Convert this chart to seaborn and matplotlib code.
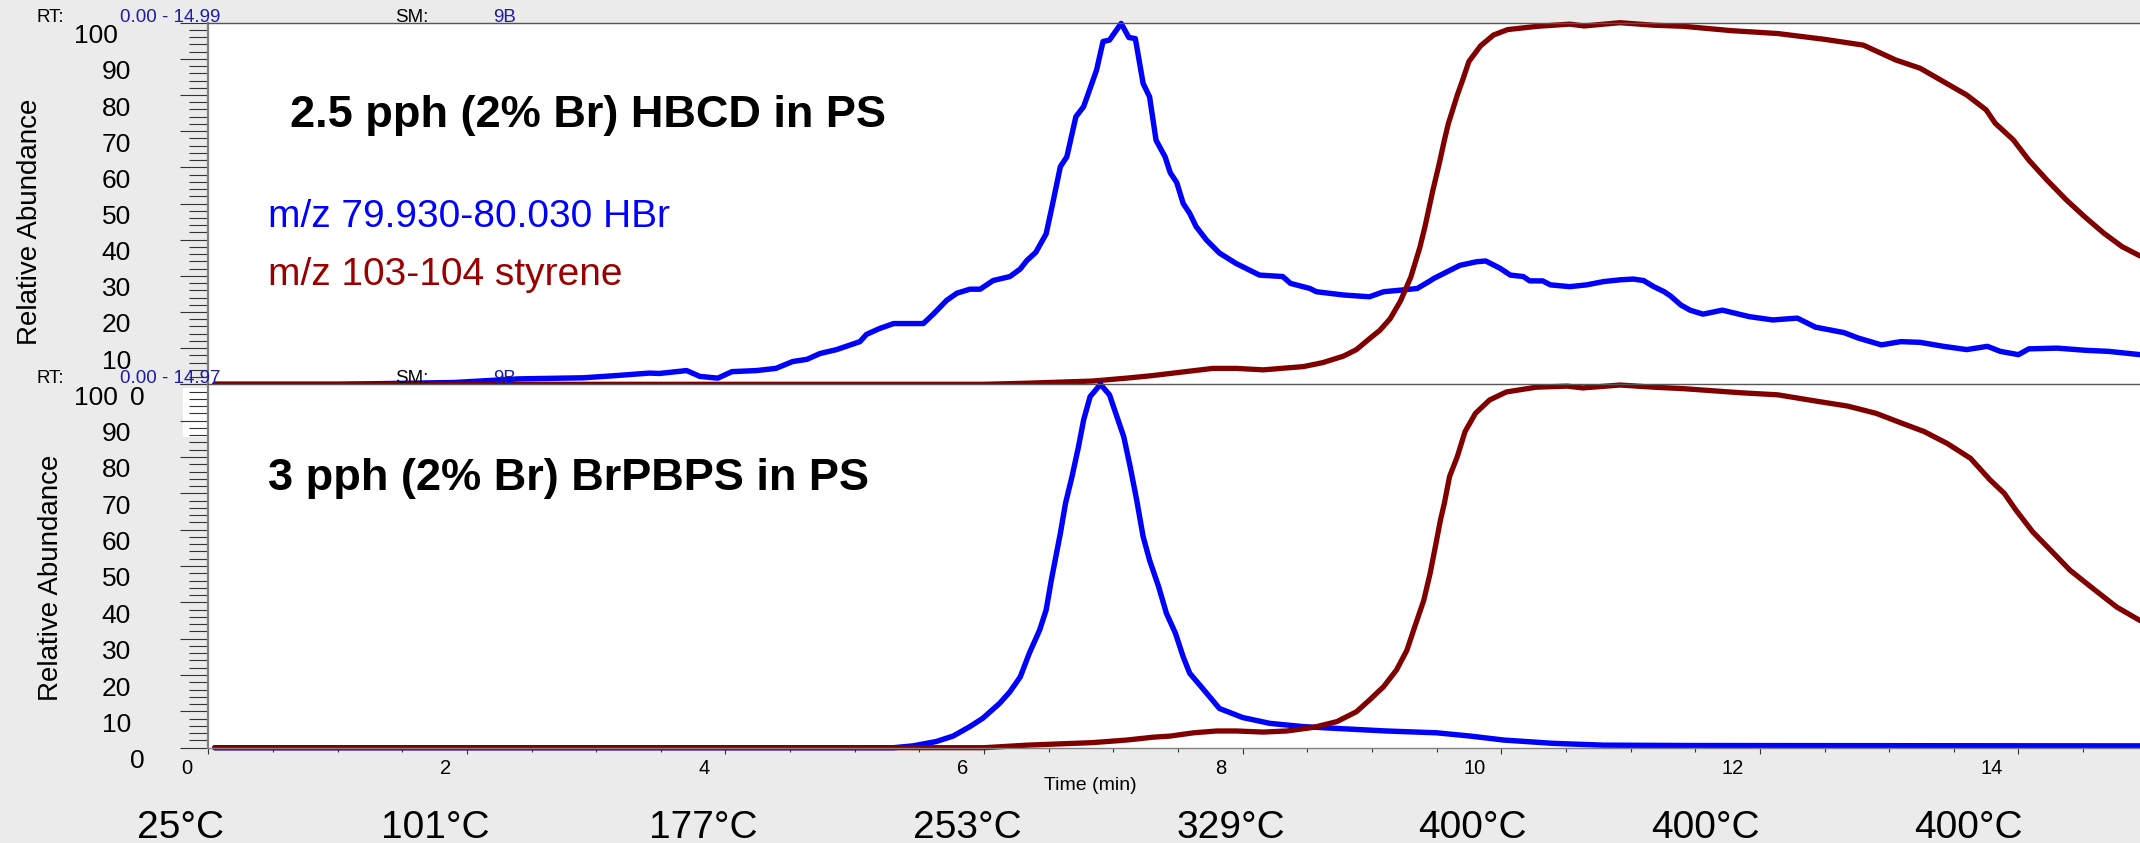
import matplotlib
matplotlib.use("Agg")
import matplotlib.pyplot as plt
import matplotlib.transforms as mtransforms
from matplotlib.patches import Rectangle
import numpy as np
import seaborn as sns

# ---- values (time in min, relative abundance in %) ----
# upper run: 2.5 pph HBCD in PS
top_hbr_t = [0.05, 1.0, 1.9, 2.4, 2.9, 3.15, 3.41, 3.49, 3.70, 3.80, 3.94, 4.05, 4.24, 4.39,
             4.52, 4.63, 4.73, 4.86, 5.04, 5.09, 5.19, 5.30, 5.53, 5.61, 5.71, 5.79, 5.89,
             5.97, 6.07, 6.20, 6.28, 6.33, 6.40, 6.48, 6.53, 6.59, 6.64, 6.71, 6.77, 6.87,
             6.92, 6.97, 7.06, 7.12, 7.17, 7.23, 7.28, 7.33, 7.40, 7.44, 7.49, 7.54, 7.59,
             7.64, 7.72, 7.82, 7.95, 8.13, 8.31, 8.37, 8.52, 8.57, 8.78, 8.98, 9.09, 9.24,
             9.35, 9.44, 9.48, 9.58, 9.68, 9.81, 9.88, 9.99, 10.07, 10.17, 10.22, 10.32,
             10.38, 10.53, 10.66, 10.79, 10.92, 11.02, 11.10, 11.18, 11.26, 11.31, 11.39,
             11.46, 11.56, 11.71, 11.92, 12.10, 12.29, 12.43, 12.65, 12.76, 12.94, 13.09,
             13.24, 13.42, 13.60, 13.76, 13.86, 14.00, 14.08, 14.30, 14.52, 14.70, 14.94]
top_hbr_v = [0, 0, 0.5, 1.5, 1.8, 2.4, 3.1, 3.0, 3.8, 2.2, 1.7, 3.5, 3.8, 4.4,
             6.3, 6.9, 8.5, 9.6, 11.8, 13.8, 15.4, 16.8, 16.8, 19.5, 23.2, 25.2, 26.3,
             26.3, 28.7, 29.8, 31.9, 34.2, 36.5, 41.6, 49.9, 60.2, 62.9, 74.0, 76.8, 86.9,
             94.8, 95.2, 99.8, 95.9, 95.6, 83.2, 79.5, 67.5, 62.9, 58.5, 55.8, 50.0, 47.3,
             43.6, 39.9, 36.3, 33.4, 30.2, 29.8, 27.9, 26.5, 25.6, 24.7, 24.2, 25.6, 26.1,
             26.5, 28.4, 29.3, 31.1, 32.9, 33.9, 34.1, 32.1, 30.2, 29.8, 28.6, 28.6,
             27.5, 27.0, 27.5, 28.4, 28.9, 29.1, 28.7, 27.0, 25.6, 24.4, 21.9,
             20.5, 19.4, 20.5, 18.7, 17.8, 18.3, 15.8, 14.3, 12.8, 10.9, 11.8,
             11.6, 10.5, 9.6, 10.5, 9.1, 8.2, 9.8, 10.0, 9.4, 9.1, 8.2]

top_sty_t = [0.05, 6.0, 6.33, 6.84, 7.10, 7.30, 7.44, 7.77, 7.95, 8.16, 8.47, 8.62, 8.78,
             8.88, 8.98, 9.06, 9.14, 9.22, 9.30, 9.37, 9.41, 9.47, 9.52, 9.56, 9.59, 9.66,
             9.70, 9.75, 9.84, 9.94, 10.05, 10.28, 10.53, 10.64, 10.92, 11.18, 11.41,
             11.78, 12.14, 12.50, 12.80, 13.05, 13.24, 13.42, 13.60, 13.75, 13.82, 13.96,
             14.08, 14.22, 14.37, 14.51, 14.66, 14.80, 14.94]
top_sty_v = [0, 0, 0.3, 0.9, 1.7, 2.4, 3.0, 4.4, 4.4, 4.0, 4.9, 6.0, 7.8,
             9.6, 12.6, 14.9, 18.1, 23.0, 29.6, 37.8, 43.6, 53.5, 61.0, 67.5, 72.0, 80.0,
             84.0, 89.3, 93.6, 96.6, 98.1, 99.0, 99.6, 99.1, 100.0, 99.3, 99.0,
             97.8, 97.0, 95.4, 93.8, 89.7, 87.4, 83.7, 80.0, 75.9, 72.2, 67.6,
             62.0, 56.5, 51.0, 46.4, 41.8, 38.1, 35.5]

# lower run: 3 pph BrPBPS in PS
bot_hbr_t = [0.05, 5.3, 5.45, 5.63, 5.76, 5.89, 5.99, 6.12, 6.20, 6.28, 6.35, 6.43, 6.48,
             6.52, 6.56, 6.59, 6.63, 6.68, 6.73, 6.77, 6.82, 6.90, 6.97, 7.01, 7.08, 7.13,
             7.18, 7.23, 7.28, 7.35, 7.41, 7.48, 7.54, 7.59, 7.70, 7.82, 8.00, 8.21, 8.47,
             8.73, 9.11, 9.50, 9.76, 10.02, 10.40, 10.79, 11.46, 14.94]
bot_hbr_v = [0, 0, 0.5, 1.7, 3.2, 5.8, 8.1, 12.2, 15.4, 19.5, 26.0, 32.4, 37.9,
             46.1, 53.5, 59.0, 67.3, 74.6, 82.8, 90.2, 96.6, 100.0, 97.1, 92.9, 85.6, 77.3,
             68.2, 58.1, 51.6, 44.3, 37.0, 31.5, 25.0, 20.5, 15.9, 10.8, 8.3, 6.7, 5.8,
             5.3, 4.6, 4.1, 3.2, 2.1, 1.2, 0.7, 0.6, 0.5]

bot_sty_t = [0.05, 6.0, 6.33, 6.84, 7.10, 7.31, 7.44, 7.62, 7.80, 7.95, 8.16, 8.34, 8.55,
             8.73, 8.88, 8.98, 9.09, 9.19, 9.27, 9.33, 9.40, 9.45, 9.49, 9.53, 9.56, 9.60,
             9.66, 9.72, 9.80, 9.91, 10.04, 10.27, 10.51, 10.63, 10.92, 11.18, 11.41,
             11.84, 12.14, 12.43, 12.68, 12.90, 13.09, 13.27, 13.45, 13.63, 13.78, 13.89,
             13.98, 14.11, 14.25, 14.40, 14.58, 14.76, 14.94]
bot_sty_v = [0, 0, 0.7, 1.4, 2.1, 2.9, 3.2, 4.1, 4.6, 4.6, 4.3, 4.6, 5.6,
             7.2, 9.9, 13.1, 16.8, 21.4, 26.8, 33.2, 40.5, 48.0, 55.3, 62.7, 67.3, 74.6,
             80.1, 87.0, 92.0, 95.7, 97.9, 99.2, 99.5, 99.0, 99.8, 99.2, 98.8,
             97.7, 97.1, 95.4, 94.0, 92.0, 89.4, 87.0, 83.7, 79.6, 73.7, 70.0,
             65.4, 59.4, 54.3, 48.8, 43.7, 38.7, 35.0]

y_ticks = list(range(0, 101, 10))
x_ticks = [0, 2, 4, 6, 8, 10, 12, 14]
temp_labels = ["25°C", "101°C", "177°C", "253°C", "329°C", "400°C", "400°C", "400°C"]
temp_shift_px = [-28, -32, -22, -17, -12, -29, -54, -50]

titles = ["2.5 pph (2% Br) HBCD in PS", "3 pph (2% Br) BrPBPS in PS"]
rt_ranges = ["0.00 - 14.99", "0.00 - 14.97"]

BLUE = "#0000ff"
MAROON = "#800000"
GREY_BG = "#ebebeb"
NAVY = "#1c1ca8"

sns.set_style("white")
plt.rcParams["font.family"] = ["Liberation Sans", "DejaVu Sans"]
plt.rcParams["text.color"] = "black"

W, H = 2140, 843
fig = plt.figure(figsize=(W / 100, H / 100), dpi=100, facecolor=GREY_BG)


def fx(x):
    return x / W


def fy(y):
    return 1 - y / H


def shift(dx, dy):
    # pixel offset, dy positive = downwards
    return mtransforms.ScaledTranslation(dx / 100, -dy / 100, fig.dpi_scale_trans)


X0 = 208.3
ax_top = fig.add_axes([fx(X0), fy(384.3), 1 - fx(X0), (384.3 - 22.7) / H])
ax_bot = fig.add_axes([fx(X0), fy(747.7), 1 - fx(X0), (747.7 - 384.3) / H])
ax_top.set_zorder(1)
ax_bot.set_zorder(2)

# white scrap left of the lower axis, as in the pasted original
fig.add_artist(Rectangle((fx(182.7), fy(436.7)), fx(208.3 - 182.7), (436.7 - 388.3) / H,
                         transform=fig.transFigure, facecolor="white", edgecolor="none", zorder=0.5))

panels = [
    (ax_top, top_hbr_t, top_hbr_v, top_sty_t, top_sty_v),
    (ax_bot, bot_hbr_t, bot_hbr_v, bot_sty_t, bot_sty_v),
]
for ax, ht, hv, st, sv in panels:
    sns.lineplot(x=ht, y=hv, ax=ax, color=BLUE, linewidth=3.9, sort=False,
                 estimator=None, clip_on=False, solid_joinstyle="round")
    sns.lineplot(x=st, y=sv, ax=ax, color=MAROON, linewidth=3.8, sort=False,
                 estimator=None, clip_on=False, solid_joinstyle="round")
    ax.set_xlim(0, 14.94)
    ax.set_ylim(0, 100)
    ax.set_facecolor("white")
    ax.set_xlabel("")
    ax.set_ylabel("")
    ax.set_yticks(y_ticks)
    ax.set_yticks(range(0, 101, 2), minor=True)
    ax.tick_params(axis="y", which="major", direction="out", length=20, width=0.8,
                   color="#333333", left=True, labelleft=False)
    ax.tick_params(axis="y", which="minor", direction="out", length=13.7, width=0.8,
                   color="#333333", left=True)
    ax.spines["right"].set_visible(False)
    ax.spines["left"].set_color("#808080")
    ax.spines["left"].set_linewidth(1.6)
    ax.spines["top"].set_color("#555555")
    ax.spines["top"].set_linewidth(1.0)

    # y tick labels sit a little below their ticks, like the instrument software
    ytr = mtransforms.blended_transform_factory(ax.transAxes, ax.transData)
    for v in y_ticks:
        dx = -77.3
        if v == 100:
            dx = -90
        elif v == 0:
            dx = -64
        ax.text(0, v, str(v), transform=ytr + shift(dx, 20.5), ha="right",
                va="baseline", fontsize=19, color="black")

ax_top.spines["bottom"].set_visible(False)
ax_top.tick_params(axis="x", which="both", bottom=False, labelbottom=False)

ax_bot.spines["bottom"].set_color("#808080")
ax_bot.spines["bottom"].set_linewidth(1.0)
ax_bot.set_xticks(x_ticks)
ax_bot.set_xticks(np.arange(0, 15, 0.5), minor=True)
ax_bot.tick_params(axis="x", which="major", direction="out", length=4.3, width=0.8,
                   color="#333333", bottom=True, labelbottom=False)
ax_bot.tick_params(axis="x", which="minor", direction="out", length=2.9, width=0.8,
                   color="#333333", bottom=True)

xtr = mtransforms.blended_transform_factory(ax_bot.transData, ax_bot.transAxes)
for t in x_ticks:
    ax_bot.text(t, 0, str(t), transform=xtr + shift(-16, 26.3), ha="right",
                va="baseline", fontsize=14.5, color="black")
for t, lab, dx in zip(x_ticks, temp_labels, temp_shift_px):
    ax_bot.text(t, 0, lab, transform=xtr + shift(dx, 90.3), ha="center",
                va="baseline", fontsize=28, color="black")

fig.text(fx(1090), fy(790), "Time (min)", ha="center", va="baseline", fontsize=14, color="black")

# y axis titles
fig.text(fx(30), fy(222), "Relative Abundance", rotation=90, ha="center", va="center",
         fontsize=20, color="black")
fig.text(fx(51), fy(578), "Relative Abundance", rotation=90, ha="center", va="center",
         fontsize=20, color="black")

# panel titles and trace legends
fig.text(fx(290), fy(126.7), titles[0], fontsize=32.5, fontweight="bold", va="baseline", color="black")
fig.text(fx(268), fy(490), titles[1], fontsize=32.5, fontweight="bold", va="baseline", color="black")
fig.text(fx(268), fy(226.7), "m/z 79.930-80.030 HBr", color=BLUE, fontsize=28, va="baseline")
fig.text(fx(268), fy(285), "m/z 103-104 styrene", color="#9b0000", fontsize=28, va="baseline")

# instrument header lines (RT range / smoothing)
for base, rt in zip([21.7, 383.0], rt_ranges):
    fig.text(fx(36), fy(base), "RT:", fontsize=13.5, va="baseline", color="black")
    fig.text(fx(120), fy(base), rt, fontsize=13.5, color=NAVY, va="baseline")
    fig.text(fx(395), fy(base), "SM:", fontsize=13.5, va="baseline", color="black")
    fig.text(fx(493), fy(base), "9B", fontsize=13.5, color=NAVY, va="baseline")

fig.savefig("out.png", dpi=100, facecolor=fig.get_facecolor())
